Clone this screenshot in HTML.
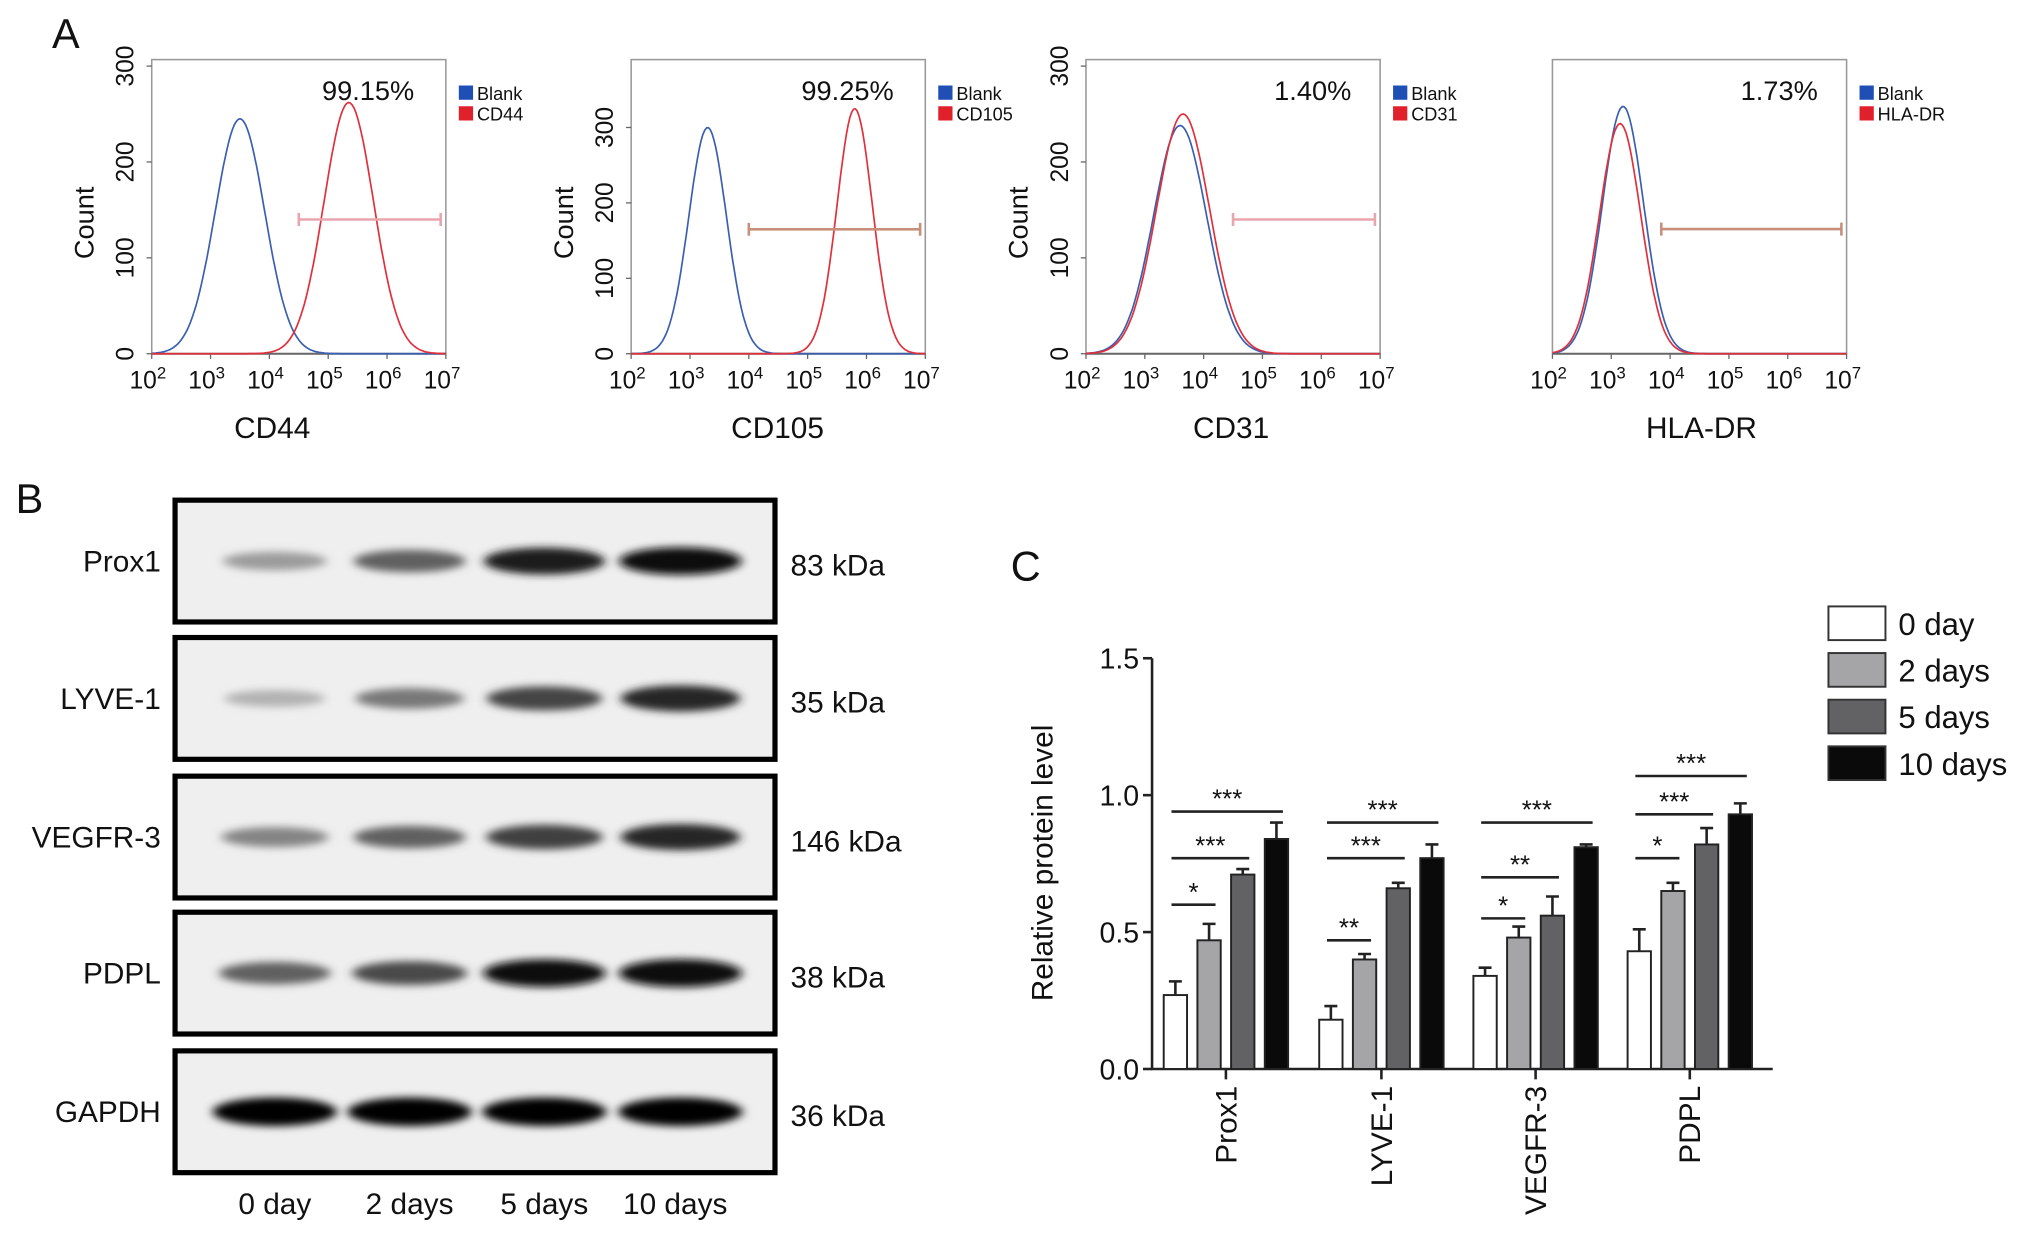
<!DOCTYPE html>
<html><head><meta charset="utf-8"><style>
html,body{margin:0;padding:0;background:#fff}
svg{display:block}
text{font-family:"Liberation Sans",Arial,sans-serif;fill:#111}
</style></head><body>
<svg id="fig" width="2032" height="1253" viewBox="0 0 1568 967" xmlns="http://www.w3.org/2000/svg">
<rect width="1568" height="967" fill="#fff"/>
<text x="40" y="37" font-size="32">A</text>
<text x="12" y="396" font-size="32">B</text>
<text x="780" y="448" font-size="32">C</text>
<g id="flowG"></g>
<g id="blotG"></g>
<g id="barsG"></g>
</svg>
<script>
const NS="http://www.w3.org/2000/svg";
// ---- Panel A data ----
const flowMarkers=["CD44","CD105","CD31","HLA-DR"];
const flowPercents=["99.15%","99.25%","1.40%","1.73%"];
const blankCenters=[3.5,3.3,3.6,3.2];
const blankWidths=[0.42,0.32,0.45,0.35];
const blankPeaks=[245,300,238,258];
const stainCenters=[5.35,5.8,3.65,3.15];
const stainWidths=[0.42,0.3,0.45,0.35];
const stainPeaks=[262,325,250,240];
const gateStart=[4.5,4.0,4.5,3.85];
const gateCount=[140,165,140,130];
const yMaxCounts=[300,390,300,300];
const yTicksA=[0,100,200,300];
const xTickExp=[2,3,4,5,6,7];
// ---- Panel B data ----
const blotProteins=["Prox1","LYVE-1","VEGFR-3","PDPL","GAPDH"];
const blotKDa=["83 kDa","35 kDa","146 kDa","38 kDa","36 kDa"];
const blotLanes=["0 day","2 days","5 days","10 days"];
const prox1Int=[0.35,0.6,0.9,0.95];
const lyve1Int=[0.25,0.5,0.72,0.85];
const vegfr3Int=[0.45,0.6,0.75,0.85];
const pdplInt=[0.6,0.7,0.95,0.97];
const gapdhInt=[1,1,1,1];
// ---- Panel C data ----
const categories=["Prox1","LYVE-1","VEGFR-3","PDPL"];
const seriesNames=["0 day","2 days","5 days","10 days"];
const day0=[0.27,0.18,0.34,0.43];
const day2=[0.47,0.40,0.48,0.65];
const day5=[0.71,0.66,0.56,0.82];
const day10=[0.84,0.77,0.81,0.93];
const err0=[0.05,0.05,0.03,0.08];
const err2=[0.06,0.02,0.04,0.03];
const err5=[0.02,0.02,0.07,0.06];
const err10=[0.06,0.05,0.01,0.04];
const sigLabels=[["*","***","***"],["**","***","***"],["*","**","***"],["*","***","***"]];
const sigLevels=[[0.60,0.77,0.94],[0.47,0.77,0.90],[0.55,0.70,0.90],[0.77,0.93,1.07]];
const yTicksC=[0,0.5,1.0,1.5];

function mk(p,tag,attrs,txt){const e=document.createElementNS(NS,tag);for(const k in attrs)e.setAttribute(k,attrs[k]);if(txt!==undefined)e.textContent=txt;p.appendChild(e);return e;}

// Panel A
const fl=document.getElementById("flowG");
const boxX=[117,487,838,1198],boxW=227,topA=46,botA=273;
for(let i=0;i<4;i++){
  const g=mk(fl,"g",{});
  
  
  const x0=boxX[i];
  const sx=v=>x0+(v-2)/5*boxW;
  const sy=c=>botA-c/yMaxCounts[i]*(botA-topA-(i==1?0:5));
  const fr=mk(g,"rect",{x:x0,y:topA,width:boxW,height:botA-topA,fill:"none",stroke:"#999","stroke-width":1.2});
  
  mk(g,"line",{x1:x0,y1:botA,x2:x0+boxW,y2:botA,stroke:"#666","stroke-width":1.5});
  if(i<3){
    yTicksA.forEach(t=>{const yy=sy(t);if(yy<topA-8)return;
      const tl=mk(g,"text",{x:0,y:0,"font-size":19,"text-anchor":"middle",transform:`translate(${x0-14},${yy}) rotate(-90)`},t);
      
      mk(g,"line",{x1:x0-4,y1:yy,x2:x0,y2:yy,stroke:"#666"});});
    const yl=mk(g,"text",{x:0,y:0,"font-size":21,"text-anchor":"middle",transform:`translate(${x0-45},172) rotate(-90)`},"Count");
    
  }
  xTickExp.forEach(e=>{const xx=sx(e);
    const t=mk(g,"text",{x:xx-3,y:300,"font-size":19,"text-anchor":"middle"});
    
    t.appendChild(document.createTextNode("10"));mk(t,"tspan",{"font-size":13,dy:-8},String(e));
    mk(g,"line",{x1:xx,y1:botA,x2:xx,y2:botA+4,stroke:"#666"});});
  const xt=mk(g,"text",{x:x0+(i==0?93:i==1?113:i==2?112:115),y:338,"font-size":23,"text-anchor":"middle"},flowMarkers[i]);
  
  function curve(c,w,h,col,name){let d="";for(let k=0;k<=160;k++){const v=2+k*5/160;const cnt=h*Math.exp(-0.5*((v-c)/w)**2);d+=(k?"L":"M")+sx(v).toFixed(1)+","+sy(cnt).toFixed(1);}
    const p=mk(g,"path",{d:d,fill:"none",stroke:col,"stroke-width":1.3});}
  curve(blankCenters[i],blankWidths[i],blankPeaks[i],"#3a5fb0","blank-histogram");
  curve(stainCenters[i],stainWidths[i],stainPeaks[i],"#e0303c","stain-histogram");
  const gcol=(i%2)?"#c8907a":"#e8a5ad";const gy=sy(gateCount[i]);const gx1=sx(gateStart[i]),gx2=x0+boxW-4;
  const gl=mk(g,"path",{d:`M${gx1},${gy}H${gx2}M${gx1},${gy-5}V${gy+5}M${gx2},${gy-5}V${gy+5}`,stroke:gcol,"stroke-width":2,fill:"none"});
  
  const pt=mk(g,"text",{x:x0+(i<2?167:175),y:77,"font-size":21,"text-anchor":"middle"},flowPercents[i]);
  
  const lx=x0+boxW+10;
  [["#1f4fb5","Blank"],["#e0202a",flowMarkers[i]]].forEach((l,j)=>{
    const r=mk(g,"rect",{x:lx,y:66+j*16,width:11,height:11,fill:l[0]});
    const t=mk(g,"text",{x:lx+14,y:77+j*16,"font-size":14},l[1]);});
}

// Panel B
const bl=document.getElementById("blotG");
const rowsY=[386,492,599,704,811],rowH=94,laneX=[212,316,420,525];
const intens=[prox1Int,lyve1Int,vegfr3Int,pdplInt,gapdhInt];
const defs=mk(bl,"defs",{});
const flt=mk(defs,"filter",{id:"blur",x:"-30%",y:"-100%",width:"160%",height:"300%"});mk(flt,"feGaussianBlur",{stdDeviation:"4 3"});
rowsY.forEach((y,r)=>{
  const g=mk(bl,"g",{});
  mk(g,"rect",{x:135,y:y,width:463,height:rowH,fill:"#efefef",stroke:"#000","stroke-width":4});
  intens[r].forEach((v,l)=>{const gray=Math.round(235-v*230);
    const b=mk(g,"ellipse",{cx:laneX[l],cy:y+rowH/2,rx:36+v*12,ry:5+v*6,fill:`rgb(${gray},${gray},${gray})`,filter:"url(#blur)"});
    });
  const t=mk(g,"text",{x:124,y:y+rowH/2+8,"font-size":23,"text-anchor":"end"},blotProteins[r]);
  const k=mk(g,"text",{x:610,y:y+rowH/2+11,"font-size":23},blotKDa[r]);
});
blotLanes.forEach((n,l)=>{const t=mk(bl,"text",{x:laneX[l]-(l==3?4:0),y:937,"font-size":23,"text-anchor":"middle"},n);});

// Panel C
const bg=document.getElementById("barsG");
const ax0=889,ay0=825,ayTop=508;
const yS=v=>ay0-v/1.5*(ay0-ayTop);
const groupC=[946,1066,1185,1304],bw=18,bstep=26;
const vals=[day0,day2,day5,day10],errs=[err0,err2,err5,err10];
const fills=["#ffffff","#a5a5a8","#626264","#0a0a0a"];
const ya=mk(bg,"path",{d:`M${ax0},${ayTop}V${ay0}M${ax0-1},${ay0}H1368`,stroke:"#222","stroke-width":2,fill:"none"});

yTicksC.forEach(t=>{mk(bg,"line",{x1:ax0-7,y1:yS(t),x2:ax0,y2:yS(t),stroke:"#222","stroke-width":2});
  const tl=mk(bg,"text",{x:ax0-10,y:yS(t)+8,"font-size":22,"text-anchor":"end"},t.toFixed(1));});
const yt=mk(bg,"text",{x:0,y:0,"font-size":23,"text-anchor":"middle",transform:"translate(812,666) rotate(-90)"},"Relative protein level");

categories.forEach((c,ci)=>{
  const gc=groupC[ci];
  mk(bg,"line",{x1:gc,y1:ay0,x2:gc,y2:ay0+8,stroke:"#222","stroke-width":2});
  const cl=mk(bg,"text",{x:0,y:0,"font-size":23,"text-anchor":"end",transform:`translate(${gc+8},838) rotate(-90)`},c);
  
  const bx=k=>gc-1.5*bstep-bw/2+k*bstep;
  vals.forEach((s,k)=>{const x=bx(k),v=s[ci],e=errs[k][ci];
    const ey=yS(v+e);
    mk(bg,"path",{d:`M${x+bw/2},${yS(v)}V${ey}M${x+bw/2-5},${ey}H${x+bw/2+5}`,stroke:"#222","stroke-width":2,fill:"none"});
    const r=mk(bg,"rect",{x:x,y:yS(v),width:bw,height:ay0-yS(v),fill:fills[k],stroke:"#222","stroke-width":1.5});
    });
  sigLevels[ci].forEach((lv,j)=>{const x1=bx(0)+6,x2=bx(j+1)+bw-4,y=yS(lv);
    mk(bg,"line",{x1:x1,y1:y,x2:x2,y2:y,stroke:"#222","stroke-width":2});
    const st=mk(bg,"text",{x:(x1+x2)/2,y:y-3,"font-size":20,"text-anchor":"middle"},sigLabels[ci][j]);
    });
});
seriesNames.forEach((n,k)=>{const y=468+k*36;
  const r=mk(bg,"rect",{x:1411,y:y,width:44,height:26,fill:fills[k],stroke:"#333","stroke-width":1.5});
  const t=mk(bg,"text",{x:1465,y:y+22,"font-size":24},n);});
</script>
</body></html>
